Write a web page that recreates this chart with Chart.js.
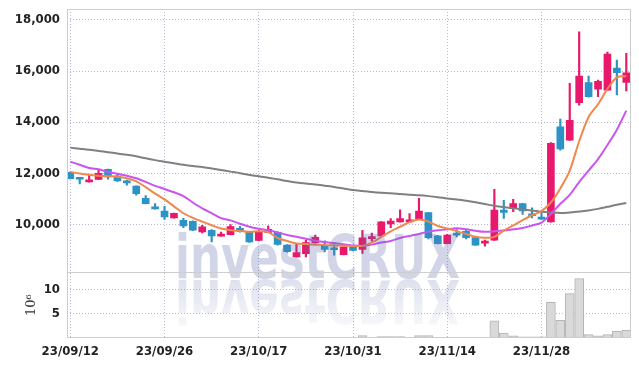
<!DOCTYPE html>
<html>
<head>
<meta charset="utf-8">
<script src="https://cdn.jsdelivr.net/npm/chart.js@4.4.0/dist/chart.umd.min.js"></script>
<style>
  html, body { margin: 0; padding: 0; background: #fff; }
  #wrap { width: 639px; height: 366px; }
</style>
</head>
<body>
<div id="wrap"><canvas id="chart"></canvas></div>
<script>
const dates = [
  '23/09/12', '23/09/13', '23/09/14', '23/09/15', '23/09/18', '23/09/19', '23/09/20', '23/09/21', '23/09/22', '23/09/25',
  '23/09/26', '23/09/27', '23/10/04', '23/10/05', '23/10/06', '23/10/10', '23/10/11', '23/10/12', '23/10/13', '23/10/16',
  '23/10/17', '23/10/18', '23/10/19', '23/10/20', '23/10/23', '23/10/24', '23/10/25', '23/10/26', '23/10/27', '23/10/30',
  '23/10/31', '23/11/01', '23/11/02', '23/11/03', '23/11/06', '23/11/07', '23/11/08', '23/11/09', '23/11/10', '23/11/13',
  '23/11/14', '23/11/15', '23/11/16', '23/11/17', '23/11/20', '23/11/21', '23/11/22', '23/11/23', '23/11/24', '23/11/27',
  '23/11/28', '23/11/29', '23/11/30', '23/12/01', '23/12/04', '23/12/05', '23/12/06', '23/12/07', '23/12/08', '23/12/11'
];
const opens = [
  12030, 11800, 11660, 11750, 12145, 11890, 11660, 11490, 11010, 10680,
  10510, 10250, 10150, 10110, 9700, 9765, 9535, 9590, 9840, 9680,
  9360, 9680, 9680, 9180, 8720, 8850, 9270, 9180, 9050, 8810,
  9110, 9010, 9430, 9540, 10010, 10090, 10090, 10195, 10460, 9540,
  9240, 9635, 9725, 9480, 9260, 9375, 10550, 10615, 10810, 10400,
  10250, 10090, 13810, 13290, 14760, 15550, 15290, 15255, 16115, 15550
];
const highs = [
  12050, 11820, 11920, 12150, 12160, 11960, 11730, 11500, 11120, 10810,
  10700, 10440, 10235, 10130, 9960, 9790, 9690, 9990, 9920, 9700,
  9770, 9940, 9700, 9200, 9240, 9375, 9570, 9350, 9200, 9110,
  9180, 9765, 9650, 10100, 10220, 10560, 10420, 11010, 10470, 9560,
  9600, 9790, 9790, 9490, 9380, 11370, 10940, 10970, 10820, 10640,
  10480, 13200, 14120, 15520, 17540, 15800, 15650, 16740, 16430, 16690
];
const lows = [
  11770, 11580, 11650, 11740, 11760, 11680, 11530, 11140, 10790, 10590,
  10190, 10240, 9860, 9750, 9660, 9310, 9530, 9580, 9690, 9290,
  9350, 9670, 9180, 8900, 8710, 8720, 9260, 8920, 8790, 8800,
  8950, 8860, 9340, 9530, 9860, 10080, 10080, 10180, 9420, 9230,
  9230, 9500, 9420, 9170, 9140, 9360, 10230, 10490, 10380, 10250,
  10190, 10080, 12900, 13280, 14660, 14980, 15000, 15240, 15060, 15225
];
const closes = [
  11780, 11760, 11725, 11990, 11855, 11700, 11620, 11200, 10800, 10600,
  10290, 10430, 9935, 9770, 9895, 9540, 9610, 9910, 9745, 9310,
  9700, 9800, 9210, 8920, 8890, 9280, 9490, 9010, 9000, 9100,
  8970, 9465, 9515, 10090, 10120, 10225, 10170, 10510, 9470, 9240,
  9570, 9575, 9470, 9180, 9310, 10550, 10460, 10810, 10520, 10330,
  10200, 13170, 12950, 14070, 15800, 15000, 15600, 16660, 15940, 15930
];
// volume in millions of shares
const volumes = [
  0.02, 0.02, 0.02, 0.02, 0.02, 0.02, 0.02, 0.02, 0.02, 0.02,
  0.02, 0.02, 0.02, 0.02, 0.02, 0.02, 0.02, 0.02, 0.02, 0.02,
  0.02, 0.02, 0.02, 0.02, 0.02, 0.02, 0.02, 0.02, 0.02, 0.02,
  0.02, 0.5, 0.05, 0.3, 0.3, 0.3, 0.05, 0.5, 0.5, 0.05,
  0.05, 0.05, 0.05, 0.05, 0.05, 3.5, 1.0, 0.45, 0.25, 0.25,
  0.25, 7.3, 3.6, 9.1, 12.2, 0.7, 0.45, 0.7, 1.35, 1.55
];
const maShort = [
  12050, 11990, 11940, 11900, 11880, 11855, 11800, 11680, 11450, 11200,
  10970, 10700, 10430, 10250, 10100, 9960, 9830, 9765, 9730, 9700,
  9720, 9690, 9460, 9340, 9245, 9220, 9200, 9185, 9170, 9155,
  9150, 9150, 9280, 9500, 9720, 9900, 10080, 10180, 10100, 9930,
  9830, 9730, 9620, 9505, 9465, 9505, 9750, 9950, 10160, 10350,
  10510, 10850, 11400, 12100, 13250, 14200, 14700, 15300, 15750, 15800
];
const maMid = [
  12450, 12330, 12200, 12150, 12050, 11980, 11900, 11800, 11660, 11500,
  11380, 11250, 11100, 10850, 10620, 10430, 10240, 10150, 10020, 9900,
  9820, 9760, 9680, 9580, 9505, 9430, 9350, 9300, 9260, 9215,
  9170, 9150, 9200, 9280, 9340, 9460, 9540, 9620, 9710, 9760,
  9800, 9840, 9800, 9740, 9700, 9720, 9750, 9800, 9850, 9950,
  10065, 10400, 10800, 11150, 11650, 12100, 12550, 13100, 13700, 14450
];
const maLong = [
  13000, 12960, 12920, 12870, 12820, 12770, 12720, 12660, 12580, 12510,
  12450, 12390, 12330, 12280, 12240, 12180, 12120, 12060, 12000, 11930,
  11880, 11820, 11760, 11690, 11630, 11590, 11560, 11510, 11460, 11400,
  11340, 11300, 11260, 11230, 11210, 11180, 11150, 11130, 11100, 11060,
  11010, 10970, 10920, 10860, 10790, 10720, 10670, 10620, 10580, 10540,
  10490, 10460, 10440, 10460, 10500, 10540, 10600, 10680, 10760, 10830
];
const xTicks = [0, 10, 20, 30, 40, 50];
const priceTicks = [10000, 12000, 14000, 16000, 18000];
const volumeTicks = [5, 10];

const UP = '#e8196b';
const DOWN = '#2b93c5';
const GRID = 'rgba(160, 160, 200, 0.75)';
const EDGE = '#cdcdcd';
const FONT = { family: '"DejaVu Sans Condensed", "Liberation Sans", sans-serif', size: 13, weight: 'bold' };

const candleColors = opens.map((o, i) => closes[i] >= o ? UP : DOWN);
const points = arr => arr.map((v, i) => ({ x: i, y: v }));

// fixed axis sizes, no extra label padding pushed into the layout
const fixSize = (w, h) => s => {
  if (w) s.width = w;
  if (h) s.height = h;
  s.paddingTop = s.paddingBottom = s.paddingLeft = s.paddingRight = 0;
};

const frame = {
  id: 'frame',
  afterDatasetsDraw(chart) {
    const { ctx, chartArea: a, scales } = chart;
    const text = 'investCRUX';
    const base = 278;

    // watermark and its mirror image
    ctx.save();
    ctx.font = 'bold 60px "DejaVu Sans Condensed", sans-serif';
    ctx.textBaseline = 'alphabetic';
    ctx.fillStyle = 'rgba(90, 105, 170, 0.28)';
    ctx.fillText(text, 175, base, 285);

    ctx.translate(0, base * 2 + 2);
    ctx.scale(1, -1);
    const fade = ctx.createLinearGradient(0, base - 45, 0, base);
    fade.addColorStop(0, 'rgba(90, 105, 170, 0.05)');
    fade.addColorStop(1, 'rgba(90, 105, 170, 0.2)');
    ctx.fillStyle = fade;
    ctx.fillText(text, 175, base, 285);
    ctx.restore();

    // outer frame and pane separator
    ctx.save();
    ctx.strokeStyle = EDGE;
    ctx.lineWidth = 1;
    ctx.strokeRect(Math.round(a.left) + 0.5, Math.round(a.top) + 0.5, Math.round(a.width) - 1, Math.round(a.height) - 1);
    const sy = Math.round(scales.y.bottom) + 0.5;
    ctx.beginPath();
    ctx.moveTo(a.left, sy);
    ctx.lineTo(a.right, sy);
    ctx.stroke();
    ctx.restore();
  }
};

new Chart(document.getElementById('chart'), {
  type: 'bar',
  data: {
    datasets: [
      { type: 'line', data: points(maShort), borderColor: '#f0884e', borderWidth: 2, pointRadius: 0, tension: 0.3, yAxisID: 'y', order: 0 },
      { type: 'line', data: points(maMid), borderColor: '#c955ef', borderWidth: 2, pointRadius: 0, tension: 0.3, yAxisID: 'y', order: 0 },
      { type: 'line', data: points(maLong), borderColor: '#808080', borderWidth: 2, pointRadius: 0, tension: 0.3, yAxisID: 'y', order: 0 },
      {
        data: opens.map((o, i) => ({ x: i, y: [o, closes[i]] })),
        backgroundColor: candleColors, barThickness: 7, minBarLength: 2,
        grouped: false, yAxisID: 'y', order: 1
      },
      {
        data: lows.map((l, i) => ({ x: i, y: [l, highs[i]] })),
        backgroundColor: candleColors, barThickness: 1.5,
        grouped: false, yAxisID: 'y', order: 2
      },
      {
        data: points(volumes),
        backgroundColor: '#d9d9d9', borderColor: '#b5b5b5', borderWidth: 1, barThickness: 9,
        grouped: false, yAxisID: 'yv', order: 3
      }
    ]
  },
  options: {
    responsive: true,
    maintainAspectRatio: false,
    animation: false,
    layout: { padding: { top: 9, right: 8, left: 0, bottom: 0 } },
    plugins: { legend: { display: false }, tooltip: { enabled: false } },
    scales: {
      x: {
        type: 'linear', min: -0.35, max: 59.5, offset: false,
        afterBuildTicks: s => { s.ticks = xTicks.map(v => ({ value: v })); },
        afterFit: fixSize(0, 28),
        grid: { color: GRID, drawTicks: false, offset: false },
        border: { display: false, dash: [1, 2] },
        ticks: { callback: v => dates[v], font: FONT, color: '#222', padding: 6, maxRotation: 0, autoSkip: false }
      },
      // volume pane listed first so that the price pane is stacked on top
      yv: {
        type: 'linear', position: 'left', stack: 'panes', stackWeight: 1,
        min: 0, max: 13.5,
        afterBuildTicks: s => { s.ticks = volumeTicks.map(v => ({ value: v })); },
        afterFit: fixSize(67, 0),
        grid: { color: GRID, drawTicks: false },
        border: { display: false, dash: [1, 2] },
        title: { display: true, text: '10⁶', font: { family: '"DejaVu Serif", serif', size: 13 }, color: '#333', padding: { top: 24, bottom: 0 } },
        ticks: { font: FONT, color: '#222', padding: 7 }
      },
      y: {
        type: 'linear', position: 'left', stack: 'panes', stackWeight: 4,
        min: 8120, max: 18430,
        afterBuildTicks: s => { s.ticks = priceTicks.map(v => ({ value: v })); },
        afterFit: fixSize(67, 0),
        grid: { color: GRID, drawTicks: false },
        border: { display: false, dash: [1, 2] },
        ticks: { callback: v => v.toLocaleString('en-US'), font: FONT, color: '#222', padding: 7 }
      }
    }
  },
  plugins: [frame]
});
</script>
</body>
</html>
